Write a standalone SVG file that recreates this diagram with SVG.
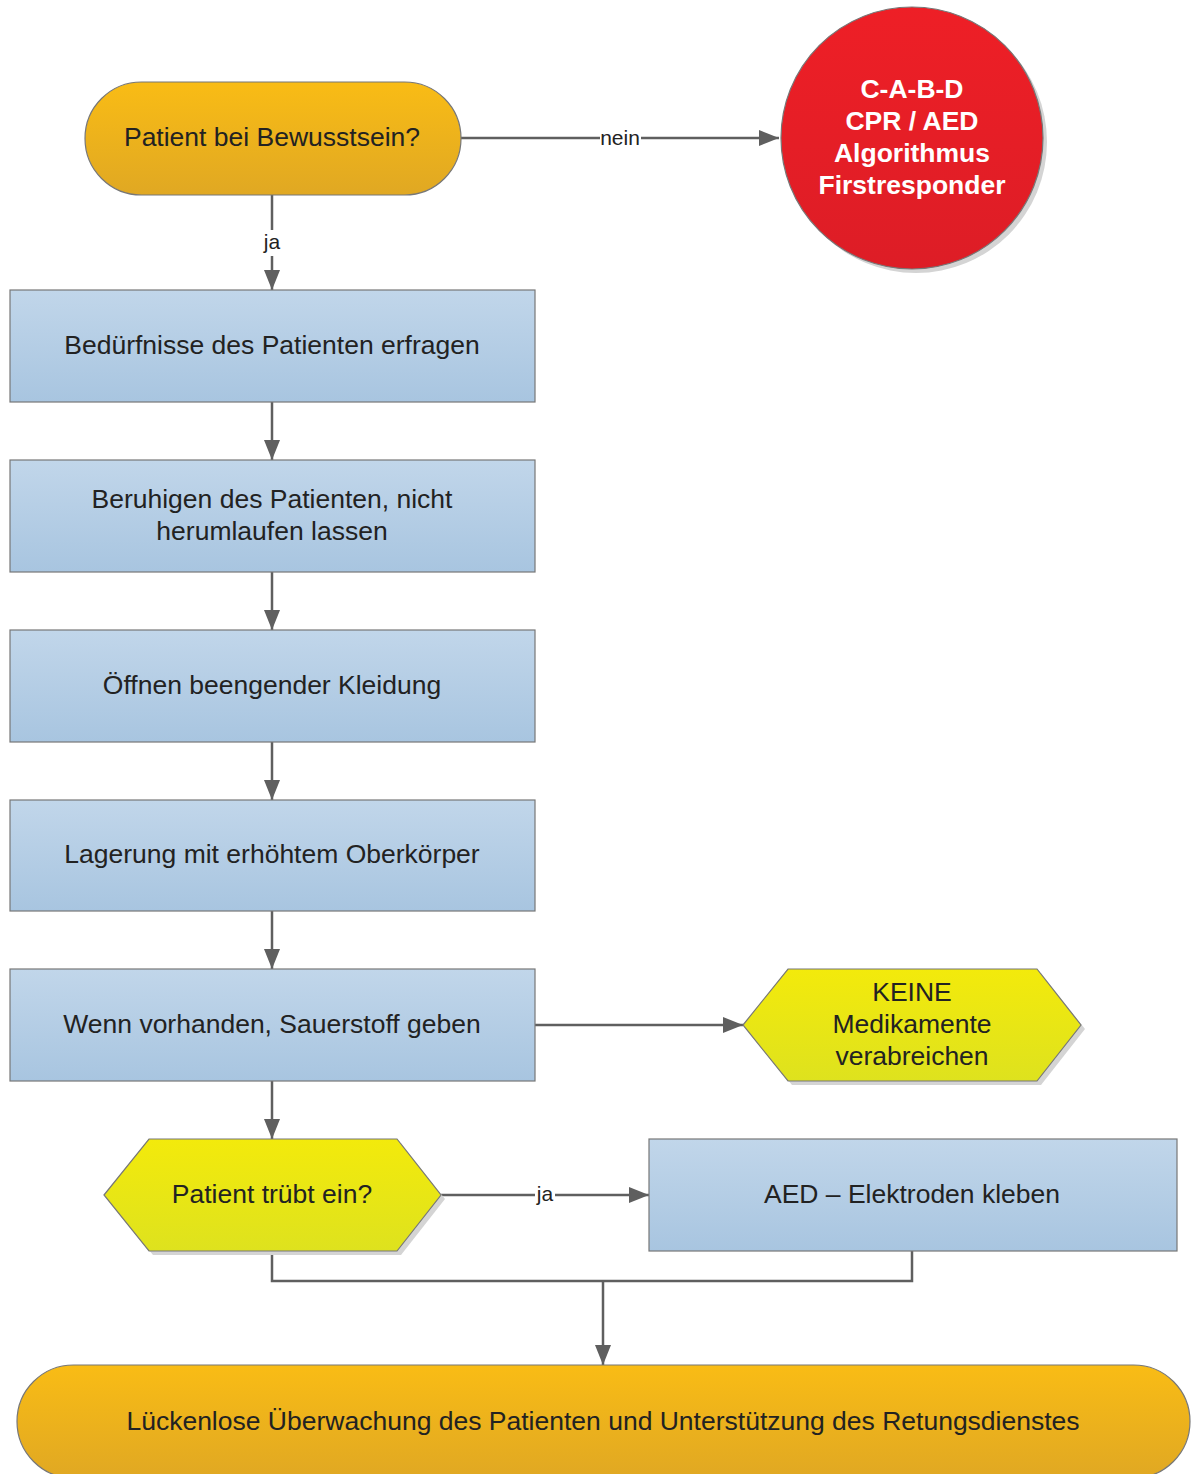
<svg xmlns="http://www.w3.org/2000/svg" width="1192" height="1474" viewBox="0 0 1192 1474">
<defs>
<linearGradient id="gOr" x1="0" y1="0" x2="0" y2="1"><stop offset="0" stop-color="#f9bc15"/><stop offset="1" stop-color="#e0a823"/></linearGradient>
<linearGradient id="gBl" x1="0" y1="0" x2="0" y2="1"><stop offset="0" stop-color="#c1d6ea"/><stop offset="1" stop-color="#a8c5e0"/></linearGradient>
<linearGradient id="gYe" x1="0" y1="0" x2="0" y2="1"><stop offset="0" stop-color="#f3ea0b"/><stop offset="1" stop-color="#dee21e"/></linearGradient>
<linearGradient id="gRe" x1="0" y1="0" x2="0" y2="1"><stop offset="0" stop-color="#ee1f26"/><stop offset="1" stop-color="#dd1d26"/></linearGradient>
<marker id="arr" markerWidth="20" markerHeight="16" refX="20" refY="8" orient="auto" markerUnits="userSpaceOnUse"><path d="M0,0 L20,8 L0,16 Z" fill="#5f5f5f"/></marker>
</defs>
<style>
.t{font-family:"Liberation Sans",Arial,sans-serif;font-size:26.5px;fill:#222;text-anchor:middle}
.w{font-family:"Liberation Sans",Arial,sans-serif;font-size:26.5px;font-weight:bold;fill:#fff;text-anchor:middle}
.l{font-family:"Liberation Sans",Arial,sans-serif;font-size:21px;fill:#222;text-anchor:middle}
.s{stroke:#777;stroke-width:1.2}
.c{fill:none;stroke:#5f5f5f;stroke-width:2.5}
.sh{fill:#d4d4d4}
</style>
<g id="connectors">
<path class="c" d="M461,138 H779" marker-end="url(#arr)"/>
<rect x="600" y="127" width="41" height="22" fill="#fff"/>
<text class="l" x="620" y="145">nein</text>
<path class="c" d="M272,195 V290" marker-end="url(#arr)"/>
<rect x="261" y="230" width="22" height="26" fill="#fff"/>
<text class="l" x="272" y="249">ja</text>
<path class="c" d="M272,402 V460" marker-end="url(#arr)"/>
<path class="c" d="M272,572 V630" marker-end="url(#arr)"/>
<path class="c" d="M272,742 V800" marker-end="url(#arr)"/>
<path class="c" d="M272,911 V969" marker-end="url(#arr)"/>
<path class="c" d="M535,1025 H743" marker-end="url(#arr)"/>
<path class="c" d="M272,1081 V1139" marker-end="url(#arr)"/>
<path class="c" d="M441,1195 H649" marker-end="url(#arr)"/>
<rect x="535" y="1183" width="20" height="24" fill="#fff"/>
<text class="l" x="545" y="1201">ja</text>
<path class="c" d="M272,1251 V1281 H912 V1251"/>
<path class="c" d="M603,1281 V1365" marker-end="url(#arr)"/>
</g>
<g id="n1">
<rect x="85" y="82" width="376" height="113" rx="56.5" ry="56.5" fill="url(#gOr)" class="s"/>
<text class="t" x="272" y="146">Patient bei Bewusstsein?</text>
</g>
<g id="n2">
<circle class="sh" cx="916" cy="142" r="131"/>
<circle cx="912" cy="138" r="131" fill="url(#gRe)" class="s"/>
<text class="w" x="912" y="98">C-A-B-D</text>
<text class="w" x="912" y="130">CPR / AED</text>
<text class="w" x="912" y="162">Algorithmus</text>
<text class="w" x="912" y="194">Firstresponder</text>
</g>
<g id="n3">
<rect x="10" y="290" width="525" height="112" fill="url(#gBl)" class="s"/>
<text class="t" x="272" y="354">Bedürfnisse des Patienten erfragen</text>
</g>
<g id="n4">
<rect x="10" y="460" width="525" height="112" fill="url(#gBl)" class="s"/>
<text class="t" x="272" y="508">Beruhigen des Patienten, nicht</text>
<text class="t" x="272" y="540">herumlaufen lassen</text>
</g>
<g id="n5">
<rect x="10" y="630" width="525" height="112" fill="url(#gBl)" class="s"/>
<text class="t" x="272" y="694">Öffnen beengender Kleidung</text>
</g>
<g id="n6">
<rect x="10" y="800" width="525" height="111" fill="url(#gBl)" class="s"/>
<text class="t" x="272" y="863">Lagerung mit erhöhtem Oberkörper</text>
</g>
<g id="n7">
<rect x="10" y="969" width="525" height="112" fill="url(#gBl)" class="s"/>
<text class="t" x="272" y="1033">Wenn vorhanden, Sauerstoff geben</text>
</g>
<g id="n8">
<polygon class="sh" points="747,1029 792,973 1041,973 1085,1029 1041,1085 792,1085"/>
<polygon points="743,1025 788,969 1037,969 1081,1025 1037,1081 788,1081" fill="url(#gYe)" class="s"/>
<text class="t" x="912" y="1001">KEINE</text>
<text class="t" x="912" y="1033">Medikamente</text>
<text class="t" x="912" y="1065">verabreichen</text>
</g>
<g id="n9">
<polygon class="sh" points="108,1199 153,1143 401,1143 445,1199 401,1255 153,1255"/>
<polygon points="104,1195 149,1139 397,1139 441,1195 397,1251 149,1251" fill="url(#gYe)" class="s"/>
<text class="t" x="272" y="1203">Patient trübt ein?</text>
</g>
<g id="n10">
<rect x="649" y="1139" width="528" height="112" fill="url(#gBl)" class="s"/>
<text class="t" x="912" y="1203">AED – Elektroden kleben</text>
</g>
<g id="n11">
<rect x="17" y="1365" width="1173" height="113" rx="56.5" ry="56.5" fill="url(#gOr)" class="s"/>
<text class="t" x="603" y="1430">Lückenlose Überwachung des Patienten und Unterstützung des Retungsdienstes</text>
</g>
</svg>
